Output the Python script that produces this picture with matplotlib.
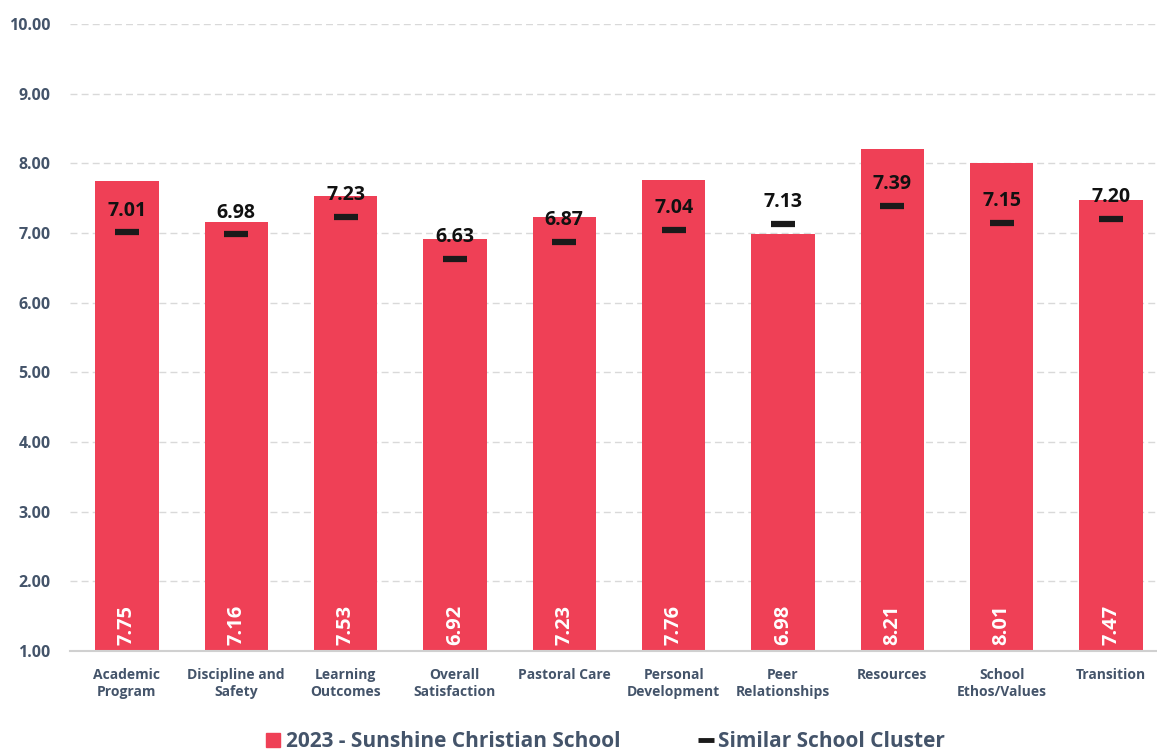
import numpy as np
import matplotlib.pyplot as plt
from matplotlib.lines import Line2D

plt.rcParams['font.family'] = ['Open Sans', 'DejaVu Sans']

categories = ['Academic\nProgram', 'Discipline and\nSafety', 'Learning\nOutcomes',
              'Overall\nSatisfaction', 'Pastoral Care', 'Personal\nDevelopment',
              'Peer\nRelationships', 'Resources', 'School\nEthos/Values', 'Transition']
school = [7.75, 7.16, 7.53, 6.92, 7.23, 7.76, 6.98, 8.21, 8.01, 7.47]
cluster = [7.01, 6.98, 7.23, 6.63, 6.87, 7.04, 7.13, 7.39, 7.15, 7.20]
yticks = np.arange(1, 11)

red = '#EF4056'
txt = '#44546A'

fig = plt.figure(figsize=(11.57, 7.51), dpi=100)
ax = fig.add_axes([0.0605, 0.133, 0.9395, 0.835])

x = np.arange(len(categories))
base = 1.0
ax.bar(x, np.array(school) - base, bottom=base, width=0.58, color=red, zorder=2)
ax.scatter(x, cluster, marker='_', s=300, linewidths=4.5, color='#1a1a1a', zorder=3)

for xi, s, c in zip(x, school, cluster):
    ax.text(xi, base + 0.09, f'{s:.2f}', rotation=90, ha='center', va='bottom',
            color='white', fontsize=14.5, fontweight='bold', zorder=4)
    ax.text(xi, c + 0.17, f'{c:.2f}', ha='center', va='bottom',
            color='#111111', fontsize=14, fontweight='bold', zorder=4)

ax.set_ylim(1, 10)
ax.set_xlim(-0.52, 9.42)
ax.set_yticks(yticks)
ax.set_yticklabels([f'{v:.2f}' for v in yticks], fontsize=11.5, fontweight='bold', color=txt)
ax.set_xticks(x)
ax.set_xticklabels(categories, fontsize=10, fontweight='bold', color=txt, linespacing=1.25)
ax.tick_params(axis='y', length=0, pad=14)
ax.tick_params(axis='x', length=0, pad=12)
ax.grid(axis='y', linestyle=(0, (5, 3)), color='#D9D9D9', linewidth=1, zorder=0)
for sp in ['top', 'right', 'left']:
    ax.spines[sp].set_visible(False)
ax.spines['bottom'].set_color('#D0D0D0')
ax.spines['bottom'].set_linewidth(1.5)

handles = [Line2D([], [], linestyle='none', marker='s', markersize=10, color=red),
           Line2D([], [], linestyle='none', marker='_', markersize=12,
                  markeredgewidth=3.5, color='#1a1a1a')]
labels = ['2023 - Sunshine Christian School', 'Similar School Cluster']
leg = fig.legend(handles, labels, loc='center', bbox_to_anchor=(0.522, 0.012), ncol=2,
                 frameon=False, columnspacing=3.6, handletextpad=0.1, handlelength=1.0,
                 prop={'weight': 'bold', 'size': 15})
for t in leg.get_texts():
    t.set_color(txt)

fig.savefig('out.png', dpi=100)
